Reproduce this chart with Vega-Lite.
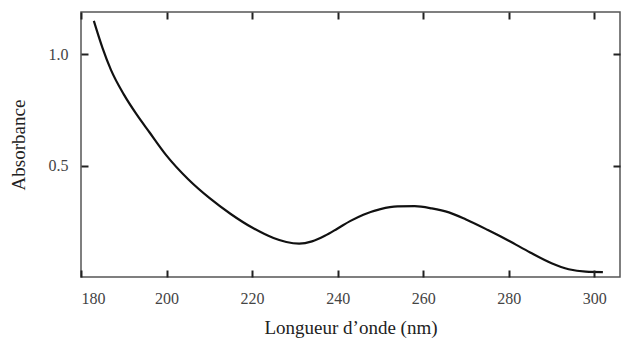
{
  "$schema": "https://vega.github.io/schema/vega-lite/v6.json",
  "autosize": "none",
  "width": 539,
  "height": 265,
  "padding": {"left": 81, "top": 12, "right": 4, "bottom": 62},
  "background": "white",
  "config": {
    "view": {"stroke": "#555", "strokeWidth": 1.5},
    "font": "Liberation Serif"
  },
  "data": {
    "values": [
      {"nm": 183, "abs": 1.15},
      {"nm": 185, "abs": 1.03},
      {"nm": 187, "abs": 0.93},
      {"nm": 190, "abs": 0.82},
      {"nm": 193, "abs": 0.73},
      {"nm": 196, "abs": 0.65},
      {"nm": 200, "abs": 0.545},
      {"nm": 205, "abs": 0.44},
      {"nm": 210, "abs": 0.355},
      {"nm": 215, "abs": 0.283},
      {"nm": 220, "abs": 0.222},
      {"nm": 225, "abs": 0.175},
      {"nm": 228, "abs": 0.157},
      {"nm": 231, "abs": 0.15},
      {"nm": 234, "abs": 0.16},
      {"nm": 237, "abs": 0.185},
      {"nm": 240, "abs": 0.218},
      {"nm": 243, "abs": 0.252},
      {"nm": 246, "abs": 0.28},
      {"nm": 250, "abs": 0.305},
      {"nm": 254, "abs": 0.317},
      {"nm": 258, "abs": 0.318},
      {"nm": 262, "abs": 0.308},
      {"nm": 266, "abs": 0.29},
      {"nm": 270, "abs": 0.258},
      {"nm": 275, "abs": 0.212},
      {"nm": 280, "abs": 0.163},
      {"nm": 285, "abs": 0.11},
      {"nm": 290, "abs": 0.062},
      {"nm": 294, "abs": 0.035},
      {"nm": 298, "abs": 0.024},
      {"nm": 302, "abs": 0.022}
    ]
  },
  "layer": [
    {
      "mark": {"type": "line", "interpolate": "monotone", "color": "#111", "strokeWidth": 2.2},
      "encoding": {
        "x": {
          "field": "nm", "type": "quantitative",
          "scale": {"domain": [180, 306], "nice": false, "zero": false},
          "axis": {
            "title": "Longueur d’onde (nm)",
            "values": [180, 200, 220, 240, 260, 280, 300],
            "grid": false, "domain": false, "ticks": true, "offset": -7, "zindex": 1,
            "tickSize": 7, "tickColor": "#222", "tickWidth": 2,
            "labelPadding": 13, "labelFontSize": 16, "labelColor": "#444",
            "labelFont": "Liberation Serif",
            "titleFont": "Liberation Serif", "titleFontSize": 19, "titleFontWeight": "normal",
            "titleColor": "#222", "titlePadding": 12
          }
        },
        "y": {
          "field": "abs", "type": "quantitative",
          "scale": {"domain": [0, 1.19], "nice": false},
          "axis": {
            "title": "Absorbance",
            "values": [0.5, 1.0], "format": ".1f",
            "grid": false, "domain": false, "ticks": true, "offset": -7, "zindex": 1,
            "tickSize": 7, "tickColor": "#222", "tickWidth": 2,
            "labelPadding": 13, "labelFontSize": 16, "labelColor": "#444",
            "labelFont": "Liberation Serif",
            "titleFont": "Liberation Serif", "titleFontSize": 19, "titleFontWeight": "normal",
            "titleColor": "#222", "titlePadding": 20
          }
        }
      }
    },
    {
      "mark": {"type": "line", "interpolate": "monotone", "strokeOpacity": 0},
      "encoding": {
        "x": {
          "field": "nm", "type": "quantitative",
          "scale": {"domain": [180, 306], "nice": false, "zero": false},
          "axis": {
            "orient": "top", "title": null, "labels": false,
            "values": [180, 200, 220, 240, 260, 280, 300],
            "grid": false, "domain": false, "ticks": true, "offset": -7, "zindex": 1,
            "tickSize": 7, "tickColor": "#222", "tickWidth": 2
          }
        },
        "y": {
          "field": "abs", "type": "quantitative",
          "scale": {"domain": [0, 1.19], "nice": false},
          "axis": {
            "orient": "right", "title": null, "labels": false,
            "values": [0.5, 1.0],
            "grid": false, "domain": false, "ticks": true, "offset": -7, "zindex": 1,
            "tickSize": 7, "tickColor": "#222", "tickWidth": 2
          }
        }
      }
    }
  ],
  "resolve": {"axis": {"x": "independent", "y": "independent"}}
}
